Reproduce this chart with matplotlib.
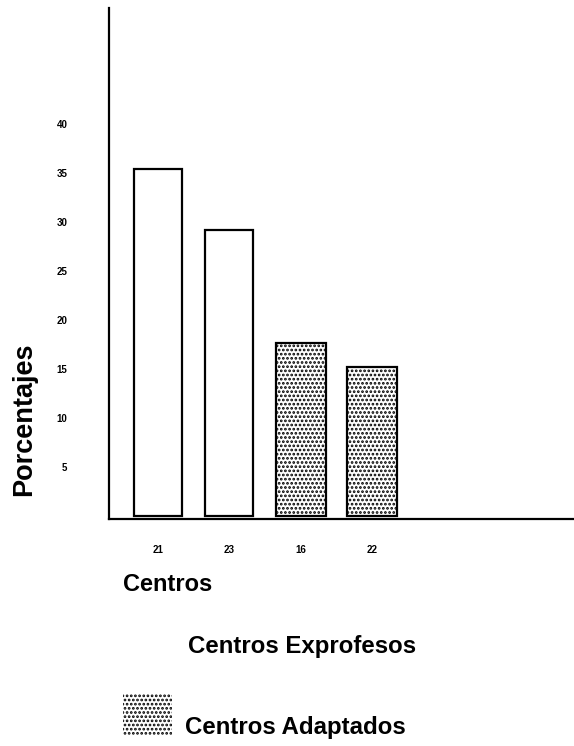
import matplotlib.pyplot as plt
from matplotlib.patches import Rectangle

plt.rcParams['font.family'] = ['Liberation Sans', 'DejaVu Sans']
plt.rcParams['hatch.linewidth'] = 1.3

# data
centros = ['21', '23', '16', '22']          # centre numbers under each bar
porcentajes = [35.4, 29.2, 17.6, 15.2]      # bar heights (%)
tipo = ['exprofeso', 'exprofeso', 'adaptado', 'adaptado']
yticks = [5, 10, 15, 20, 25, 30, 35, 40]

leyenda = {'exprofeso': 'Centros Exprofesos', 'adaptado': 'Centros Adaptados'}

W, H = 574, 746
fig = plt.figure(figsize=(W / 100, H / 100), dpi=100)
ax = fig.add_axes([109 / W, 1 - 519 / H, 1 - 109 / W, (519 - 8) / H])

x = list(range(len(centros)))
for xi, v, t in zip(x, porcentajes, tipo):
    if t == 'adaptado':
        ax.bar(xi, v, width=0.7, facecolor='white', edgecolor='black',
               linewidth=1.6, hatch='....', zorder=2)
    else:
        ax.bar(xi, v, width=0.67, facecolor='white', edgecolor='black',
               linewidth=1.6, zorder=2)

ax.set_xlim(-0.687, 5.83)
ax.set_ylim(-0.3, 51.8)

ax.set_xticks(x)
ax.set_xticklabels(centros, fontsize=7, fontweight='bold')
ax.set_yticks(yticks)
ax.set_yticklabels([str(t) for t in yticks], fontsize=7, fontweight='bold')
ax.tick_params(axis='both', length=0)
ax.tick_params(axis='y', pad=30)
ax.tick_params(axis='x', pad=19)

for s in ['top', 'right']:
    ax.spines[s].set_visible(False)
ax.spines['left'].set_linewidth(1.6)
ax.spines['bottom'].set_linewidth(1.6)

fig.text(24 / W, 1 - 419 / H, 'Porcentajes', rotation=90, fontsize=19.5,
         fontweight='bold', ha='center', va='center')

fig.text(123 / W, 1 - 591 / H, 'Centros', fontsize=17, fontweight='bold',
         ha='left', va='baseline')

# legend drawn by hand
fig.add_artist(Rectangle((123 / W, 1 - 652 / H), 49 / W, 45 / H,
                         transform=fig.transFigure, facecolor='white',
                         edgecolor='none'))
fig.text(188 / W, 1 - 653 / H, leyenda['exprofeso'], fontsize=17.3,
         fontweight='bold', ha='left', va='baseline')

fig.add_artist(Rectangle((123 / W, 1 - 735 / H), 49 / W, 42 / H,
                         transform=fig.transFigure, facecolor='white',
                         edgecolor='black', linewidth=0, hatch='....'))
fig.text(185 / W, 1 - 734 / H, leyenda['adaptado'], fontsize=17.3,
         fontweight='bold', ha='left', va='baseline')

fig.savefig('out.png', dpi=100)
